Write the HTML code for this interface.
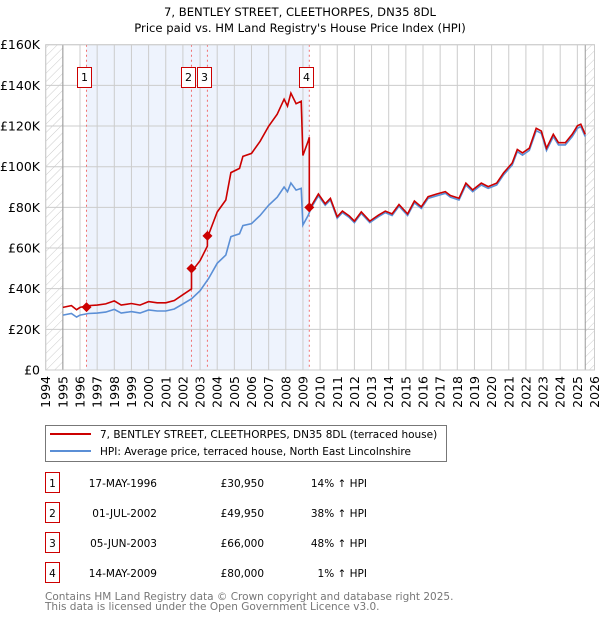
<!DOCTYPE html>
<html><head><meta charset="utf-8"><style>
body{margin:0;background:#fff;font-family:"DejaVu Sans","Liberation Sans",sans-serif;}
#wrap{position:relative;width:600px;height:620px;overflow:hidden}
svg text{font-family:"DejaVu Sans","Liberation Sans",sans-serif}
</style></head><body><div id="wrap">
<svg id="c" width="600" height="620"></svg>
</div>
<script>
const hpiYears=[1995.0,1995.5,1995.8,1996.0,1996.5,1997.0,1997.5,1998.0,1998.4,1999.0,1999.5,2000.0,2000.5,2001.0,2001.5,2002.0,2002.5,2003.0,2003.5,2004.0,2004.5,2004.8,2005.3,2005.5,2006.0,2006.5,2007.0,2007.5,2007.9,2008.1,2008.3,2008.6,2008.9,2009.0,2009.3,2009.5,2009.9,2010.3,2010.6,2011.0,2011.3,2011.7,2012.0,2012.4,2012.9,2013.4,2013.8,2014.2,2014.6,2015.1,2015.5,2015.9,2016.3,2016.8,2017.3,2017.6,2018.1,2018.5,2018.9,2019.4,2019.8,2020.3,2020.7,2021.2,2021.5,2021.8,2022.2,2022.6,2022.9,2023.2,2023.6,2023.9,2024.3,2024.7,2025.0,2025.2,2025.46];
const hpiValues=[27,27.8,26,27,27.8,28,28.5,29.8,28,28.7,28,29.5,29,29,30,32.5,35,39,45,52.5,56.5,65.6,67,71,72,76,81,85,90,87.7,92,88.5,89.3,71.3,76,80,85.7,81,83.6,74.6,77.4,75,72.5,77,72.5,75.4,77.4,76,80.6,76,82.3,79.5,84.4,85.7,86.9,85,83.6,91,87.7,91,89.3,91,96,100.8,107.4,105.7,108,117.7,116.4,108,114.8,110.7,110.7,114.8,118.9,119.7,114.8];
const saleYears=[1996.38,2002.5,2003.43,2009.37];
const salePrices=[30.95,49.95,66.0,80.0];
const salePremium=[1.14,1.38,1.48,1.01];
const yTicks=[0,20,40,60,80,100,120,140,160];
const yTickLabels=["£0","£20K","£40K","£60K","£80K","£100K","£120K","£140K","£160K"];
const xTicks=[1994,1995,1996,1997,1998,1999,2000,2001,2002,2003,2004,2005,2006,2007,2008,2009,2010,2011,2012,2013,2014,2015,2016,2017,2018,2019,2020,2021,2022,2023,2024,2025,2026];
const saleLabels=["1","2","3","4"];
const saleDates=["17-MAY-1996","01-JUL-2002","05-JUN-2003","14-MAY-2009"];
const salePriceText=["£30,950","£49,950","£66,000","£80,000"];
const saleHpiText=["14% ↑ HPI","38% ↑ HPI","48% ↑ HPI","1% ↑ HPI"];

const L=45.7,R=594.5,T=44.7,B=370;
const X=y=>L+(y-1994)*(R-L)/32;
const Y=v=>B-v*(B-T)/160;
const svg=document.getElementById('c');
const NS='http://www.w3.org/2000/svg';
function mk(t,a,p){const e=document.createElementNS(NS,t);for(const k in a)e.setAttribute(k,a[k]);(p||svg).appendChild(e);return e;}

let t=mk('text',{x:300,y:16,'text-anchor':'middle','font-size':11.6,fill:'#000'});t.textContent='7, BENTLEY STREET, CLEETHORPES, DN35 8DL';

t=mk('text',{x:300,y:32,'text-anchor':'middle','font-size':11.6,fill:'#000'});t.textContent="Price paid vs. HM Land Registry's House Price Index (HPI)";


const defs=mk('defs',{});
const pat=mk('pattern',{id:'h',width:6,height:6,patternUnits:'userSpaceOnUse',patternTransform:'rotate(45)'},defs);
mk('line',{x1:0,y1:0,x2:0,y2:6,stroke:'#ccc','stroke-width':1},pat);

let r=mk('rect',{x:X(saleYears[0]),y:T,width:X(saleYears[3])-X(saleYears[0]),height:B-T,fill:'#eef3fd'});

r=mk('rect',{x:L,y:T,width:X(1995)-L,height:B-T,fill:'url(#h)'});

const lastY=hpiYears[hpiYears.length-1];
r=mk('rect',{x:X(lastY),y:T,width:R-X(lastY),height:B-T,fill:'url(#h)'});


yTicks.forEach((v,i)=>{
  const g=mk('line',{x1:L,x2:R,y1:Y(v),y2:Y(v),stroke:'#ccc','stroke-width':1});
  
  const l=mk('text',{x:40,y:Y(v)+4.5,'text-anchor':'end','font-size':12.5,fill:'#000'});l.textContent=yTickLabels[i];
  
});
xTicks.forEach(y=>{
  const g=mk('line',{x1:X(y),x2:X(y),y1:T,y2:B,stroke:'#ccc','stroke-width':1});
  
  const l=mk('text',{x:0,y:0,'text-anchor':'end','font-size':12.5,fill:'#000',transform:`translate(${X(y)+4.5},${B+6}) rotate(-90)`});l.textContent=y;
  
});
let ln=mk('line',{x1:X(1995),x2:X(1995),y1:T,y2:B,stroke:'#999','stroke-width':1});

ln=mk('line',{x1:X(lastY),x2:X(lastY),y1:T,y2:B,stroke:'#999','stroke-width':1});


saleYears.forEach((y,i)=>{
  const l=mk('line',{x1:X(y),x2:X(y),y1:T,y2:B,stroke:'#f07070','stroke-width':1,'stroke-dasharray':'2,3'});
  
});

function hpiAt(y){for(let i=1;i<hpiYears.length;i++){if(y<=hpiYears[i]){const f=(y-hpiYears[i-1])/(hpiYears[i]-hpiYears[i-1]);return hpiValues[i-1]+f*(hpiValues[i]-hpiValues[i-1]);}}return hpiValues[hpiValues.length-1];}
let d=hpiYears.map((y,i)=>(i?'L':'M')+X(y).toFixed(1)+','+Y(hpiValues[i]).toFixed(1)).join('');
let p=mk('path',{d,fill:'none',stroke:'#5b8fd6','stroke-width':1.6});


function prem(y){let k=0;for(let i=0;i<saleYears.length;i++)if(y>=saleYears[i])k=i;return salePremium[k];}
let pts=[];
hpiYears.forEach((y,i)=>{
  for(let s=0;s<saleYears.length;s++){
    if(i>0&&hpiYears[i-1]<saleYears[s]&&y>=saleYears[s]){
      const hv=hpiAt(saleYears[s]-0.001);
      pts.push([saleYears[s]-0.001,hv*(s?salePremium[s-1]:salePremium[0])]);
      pts.push([saleYears[s],salePrices[s]]);
    }
  }
  pts.push([y,hpiValues[i]*prem(y)]);
});
d=pts.map((q,i)=>(i?'L':'M')+X(q[0]).toFixed(1)+','+Y(q[1]).toFixed(1)).join('');
p=mk('path',{d,fill:'none',stroke:'#cc0000','stroke-width':1.6});


saleYears.forEach((y,i)=>{
  const cx=X(y),cy=Y(salePrices[i]);
  const m=mk('path',{d:`M${cx},${cy-5}L${cx+5},${cy}L${cx},${cy+5}L${cx-5},${cy}Z`,fill:'#cc0000'});
  
  const bx=Math.round(X(y)-10)+0.5;
  const b=mk('rect',{x:bx,y:67.5,width:14,height:20,fill:'#fff',stroke:'#cc0000','stroke-width':1});
  
  const tx=mk('text',{x:bx+7,y:81,'text-anchor':'middle','font-size':11,fill:'#000'});tx.textContent=saleLabels[i];
  
});
r=mk('rect',{x:L,y:T,width:R-L,height:B-T,fill:'none',stroke:'#ccc'});


const lg=mk('g',{});

mk('rect',{x:45.5,y:425.5,width:401,height:36,fill:'#fff',stroke:'#777'},lg);
mk('line',{x1:50,x2:91,y1:434,y2:434,stroke:'#cc0000','stroke-width':2},lg);
mk('line',{x1:50,x2:91,y1:451,y2:451,stroke:'#5b8fd6','stroke-width':2},lg);
t=mk('text',{x:100,y:438,'font-size':10.5,fill:'#000'},lg);t.textContent='7, BENTLEY STREET, CLEETHORPES, DN35 8DL (terraced house)';

t=mk('text',{x:100,y:455,'font-size':10.5,fill:'#000'},lg);t.textContent='HPI: Average price, terraced house, North East Lincolnshire';


saleLabels.forEach((s,i)=>{
  const cy=483+i*30;
  const b=mk('rect',{x:45.5,y:cy-10.5,width:14,height:20,fill:'#fff',stroke:'#cc0000'});
  
  const cols=[[52.5,s,'middle'],[157,saleDates[i],'end'],[264,salePriceText[i],'end'],[367,saleHpiText[i],'end']];
  cols.forEach(c=>{const e=mk('text',{x:c[0],y:cy+4,'font-size':10.5,fill:'#000','text-anchor':c[2]});e.textContent=c[1];
    });
});
t=mk('text',{x:45,y:600,'font-size':10.5,fill:'#777'});t.textContent='Contains HM Land Registry data © Crown copyright and database right 2025.';

t=mk('text',{x:45,y:610,'font-size':10.5,fill:'#777'});t.textContent='This data is licensed under the Open Government Licence v3.0.';

</script></body></html>
